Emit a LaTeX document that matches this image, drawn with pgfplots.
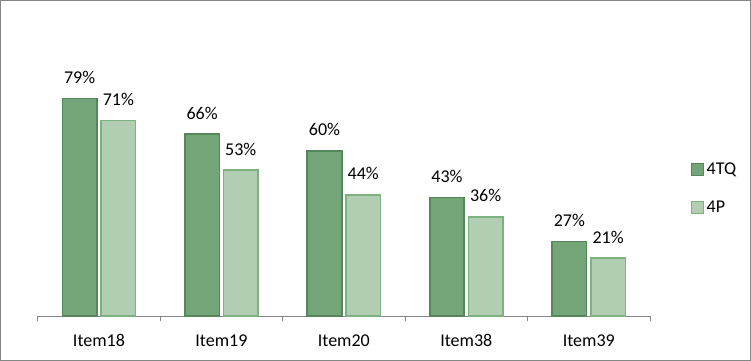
\documentclass[border=0pt]{standalone}
\usepackage{pgfplots}
\pgfplotsset{compat=1.18}
\usepackage{fontspec}
\setmainfont{Carlito}
\definecolor{dfill}{RGB}{115,165,120}
\definecolor{ddraw}{RGB}{85,135,90}
\definecolor{lfill}{RGB}{178,206,178}
\definecolor{ldraw}{RGB}{125,178,128}
\definecolor{axgray}{RGB}{134,134,134}
\begin{document}
\begin{tikzpicture}[font=\fontsize{13.5pt}{16pt}\selectfont]
\draw[axgray,line width=0.75pt] (0.375pt,0.375pt) rectangle (562.875pt,270.375pt);
\begin{axis}[
  at={(28.3pt,33.75pt)}, anchor=south west,
  scale only axis, width=459.2pt, height=206.6pt,
  xmin=-0.5, xmax=4.5, ymin=0, ymax=100,
  axis x line*=bottom, axis y line=none,
  x axis line style={axgray, line width=0.75pt, -},
  xtick={0,1,2,3,4}, xticklabels={Item18,Item19,Item20,Item38,Item39},
  major x tick style={draw=none},
  minor xtick={-0.5,0.5,1.5,2.5,3.5,4.5},
  minor x tick style={axgray, line width=0.75pt},
  minor tick length=4pt, major tick length=0pt, tick align=outside,
  xticklabel style={anchor=base, yshift=-22.5pt, font=\fontsize{13.5pt}{16pt}\selectfont},
  ybar, bar width=0.282,
  /pgf/number format/assume math mode=true,
  nodes near coords={\pgfmathprintnumber{\pgfplotspointmeta}\%},
  every node near coord/.append style={anchor=base, yshift=11.25pt, font=\fontsize{13.5pt}{16pt}\selectfont, text=black},
  legend style={draw=none, fill=none, at={(rel axis cs:1.06,0.463)}, anchor=west, row sep=14pt, font=\fontsize{13.5pt}{16pt}\selectfont},
  legend cell align=left,
  legend image code/.code={\draw[#1, line width=0.75pt] (0pt,-4.5pt) rectangle (9pt,4.5pt);},
]
\addplot[fill=dfill, draw=ddraw, line width=1.2pt, bar shift=-0.158] coordinates {(0,79)(1,66)(2,60)(3,43)(4,27)};
\addplot[fill=lfill, draw=ldraw, line width=1.2pt, bar shift=0.158] coordinates {(0,71)(1,53)(2,44)(3,36)(4,21)};
\legend{4TQ,4P}
\end{axis}
\end{tikzpicture}
\end{document}
